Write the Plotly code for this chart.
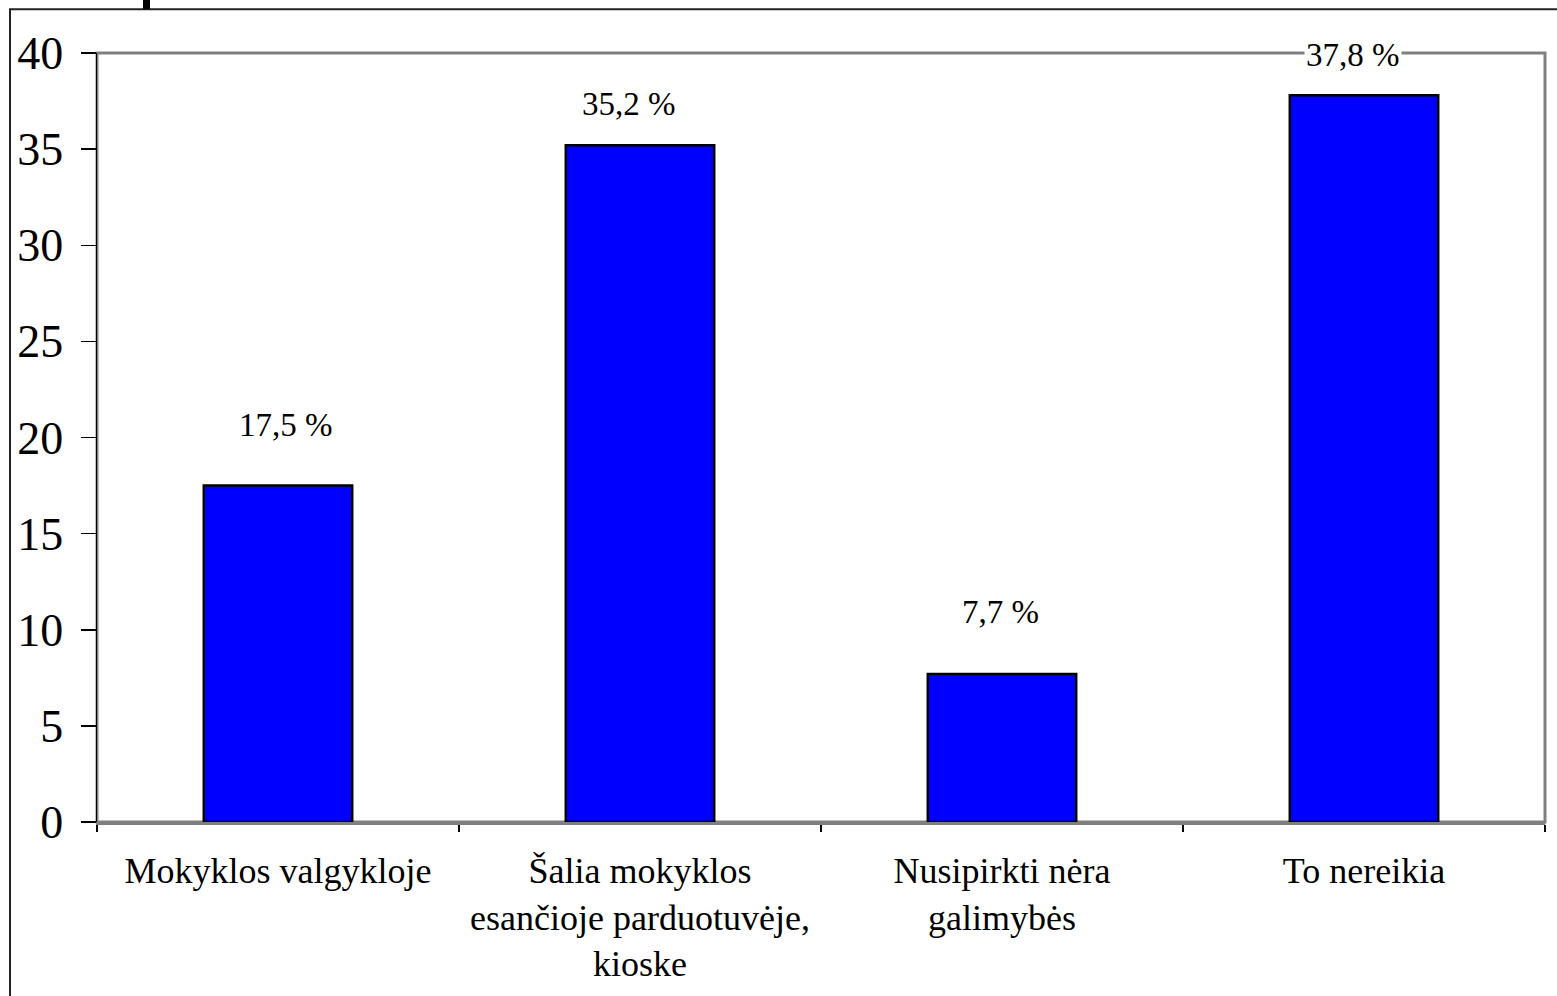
import plotly.graph_objects as go

categories = ["Mokyklos valgykloje",
              "Šalia mokyklos<br>esančioje parduotuvėje,<br>kioske",
              "Nusipirkti nėra<br>galimybės",
              "To nereikia"]
values = [17.5, 35.2, 7.7, 37.8]
value_labels = ["17,5 %", "35,2 %", "7,7 %", "37,8 %"]
y_ticks = [0, 5, 10, 15, 20, 25, 30, 35, 40]

# label placement offsets (pixels) relative to bar top centre
label_dx = [8, -11, -2, -11]
label_dy = [61, 41, 62, 40]

FONT = "Liberation Serif, Times New Roman, serif"

W, H = 1557, 996
ML, MT, MR, MB = 97, 53, 12, 171
PW, PH = W - ML - MR, H - MT - MB

fig = go.Figure()
fig.add_trace(go.Bar(
    x=categories, y=values,
    marker=dict(color="#0000FF", line=dict(color="black", width=2.5)),
    width=0.41, hoverinfo="skip",
))

for c, v, t, dx, dy in zip(categories, values, value_labels, label_dx, label_dy):
    fig.add_annotation(x=c, y=v, xshift=dx, yshift=dy, text=t, showarrow=False,
                       font=dict(family=FONT, size=33, color="black"),
                       bgcolor="white", borderpad=1, xref="x", yref="y")

# plot frame (gray)
fig.add_shape(type="rect", xref="paper", yref="paper", x0=0, x1=1, y0=0, y1=1,
              line=dict(color="#808080", width=3), layer="below")
# outer chart border
fig.add_shape(type="rect", xref="paper", yref="paper",
              x0=(10 - ML) / PW, x1=(1600 - ML) / PW,
              y0=-1.0, y1=(PH + MT - 9) / PH,
              line=dict(color="#222222", width=2))
# small black mark at top
fig.add_shape(type="rect", xref="paper", yref="paper",
              x0=(143 - ML) / PW, x1=(150 - ML) / PW,
              y0=(PH + MT - 9) / PH, y1=(PH + MT + 2) / PH,
              line=dict(width=0), fillcolor="black")

fig.update_layout(
    width=W, height=H,
    margin=dict(l=ML, r=MR, t=MT, b=MB),
    paper_bgcolor="white", plot_bgcolor="white",
    showlegend=False,
    font=dict(family=FONT, color="black"),
)
fig.update_xaxes(
    type="category", range=[-0.5, len(categories) - 0.5],
    tickson="boundaries", ticks="outside", ticklen=7, tickwidth=1.2, tickcolor="black",
    showline=True, linecolor="#808080", linewidth=2.5,
    showgrid=False, zeroline=False,
    tickfont=dict(family=FONT, size=36, color="black"),
    tickangle=0, ticklabelstandoff=15,
)
fig.update_yaxes(
    range=[0, 40], tickmode="array", tickvals=y_ticks,
    ticks="outside", ticklen=15, tickwidth=1.5, tickcolor="black",
    showline=True, linecolor="black", linewidth=1.5,
    showgrid=False, zeroline=False,
    tickfont=dict(family=FONT, size=46, color="black"),
    ticklabelstandoff=8,
)

fig.write_html("out.html",
               config={"displayModeBar": False, "staticPlot": True},
               post_script="document.body.style.margin='0';document.body.style.overflow='hidden';")
